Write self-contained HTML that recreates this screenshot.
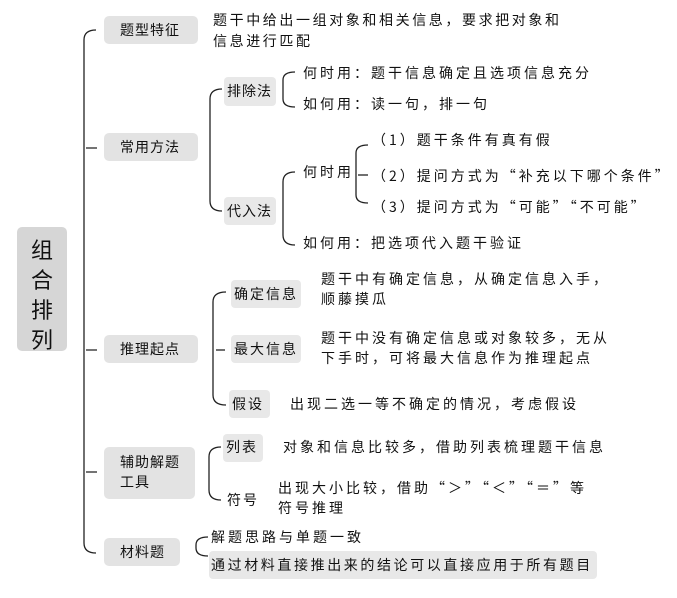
<!DOCTYPE html>
<html><head><meta charset="utf-8"><style>
body{margin:0;width:677px;height:598px;background:#fff;position:relative;overflow:hidden;font-family:"Noto Sans CJK SC","Liberation Sans",sans-serif;color:#111}
.t{position:absolute;white-space:nowrap;font-size:14px;letter-spacing:3px;line-height:20px}
.b{position:absolute;background:#e3e3e3;border-radius:5px}
.bd{position:absolute;background:#e8e8e8;border-radius:4px}
svg{position:absolute;left:0;top:0}
</style></head><body>
<svg width="677" height="598" fill="none" stroke="#222" stroke-width="1.3">
<path d="M96 30 Q84 30 84 40 L84 543 Q84 553 96 553"/>
<path d="M86 148 H97 M86 350 H97 M86 472 H97"/>
<path d="M222 89 Q210 89 210 99 L210 201 Q210 211 222 211"/>
<path d="M295 72 Q283 72 283 80 L283 99 Q283 107 295 107"/>
<path d="M295 172 Q283 172 283 182 L283 235 Q283 245 295 245"/>
<path d="M368 145 Q356 145 356 153 L356 195 Q356 203 368 203"/>
<path d="M358 175 H368"/>
<path d="M226 292 Q213 292 213 302 L213 395 Q213 405 226 405"/>
<path d="M216 350 H225"/>
<path d="M221 447 Q209 447 209 457 L209 490 Q209 500 221 500"/>
<path d="M208 537 Q196 537 196 545 L196 548 Q196 556 208 556"/>
</svg>
<div class="b" style="left:17px;top:227px;width:50px;height:124px;background:#d6d6d6"></div>
<div class="t" style="left:29px;top:234px;font-size:22px;line-height:30px;letter-spacing:0;width:26px;white-space:normal;text-align:center">组<br>合<br>排<br>列</div>
<div class="b" style="left:104px;top:16px;width:94px;height:28px"></div><div class="t" style="left:120px;top:20px;letter-spacing:1px">题型特征</div>
<div class="b" style="left:104px;top:133px;width:94px;height:28px"></div><div class="t" style="left:120px;top:137px;letter-spacing:1px">常用方法</div>
<div class="b" style="left:104px;top:335px;width:94px;height:28px"></div><div class="t" style="left:120px;top:339px;letter-spacing:1px">推理起点</div>
<div class="b" style="left:104px;top:447px;width:91px;height:52px"></div><div class="t" style="left:120px;top:452px;letter-spacing:1px">辅助解题<br>工具</div>
<div class="b" style="left:104px;top:538px;width:76px;height:28px"></div><div class="t" style="left:120px;top:542px;letter-spacing:1px">材料题</div>
<div class="t" style="left:213px;top:10px;letter-spacing:2.6px">题干中给出一组对象和相关信息，要求把对象和</div>
<div class="t" style="left:213px;top:31px;letter-spacing:2.6px">信息进行匹配</div>
<div class="bd" style="left:224px;top:77px;width:52px;height:29px"></div><div class="t" style="left:227px;top:81px;letter-spacing:1px">排除法</div>
<div class="bd" style="left:224px;top:197px;width:52px;height:28px"></div><div class="t" style="left:227px;top:201px;letter-spacing:1px">代入法</div>
<div class="t" style="left:303px;top:63px">何时用：题干信息确定且选项信息充分</div>
<div class="t" style="left:303px;top:94px">如何用：读一句，排一句</div>
<div class="t" style="left:303px;top:162px">何时用</div>
<div class="t" style="left:303px;top:233px">如何用：把选项代入题干验证</div>
<div class="t" style="left:372px;top:130px">（1）题干条件有真有假</div>
<div class="t" style="left:372px;top:166px">（2）提问方式为“补充以下哪个条件”</div>
<div class="t" style="left:372px;top:197px">（3）提问方式为“可能”“不可能”</div>
<div class="bd" style="left:231px;top:280px;width:70px;height:28px"></div><div class="t" style="left:234px;top:284px;letter-spacing:2px">确定信息</div>
<div class="bd" style="left:231px;top:335px;width:70px;height:28px"></div><div class="t" style="left:234px;top:339px;letter-spacing:2px">最大信息</div>
<div class="bd" style="left:229px;top:390px;width:41px;height:28px"></div><div class="t" style="left:232px;top:394px;letter-spacing:2px">假设</div>
<div class="t" style="left:321px;top:269px">题干中有确定信息，从确定信息入手，</div>
<div class="t" style="left:321px;top:289px">顺藤摸瓜</div>
<div class="t" style="left:321px;top:328px">题干中没有确定信息或对象较多，无从</div>
<div class="t" style="left:321px;top:348px">下手时，可将最大信息作为推理起点</div>
<div class="t" style="left:290px;top:394px">出现二选一等不确定的情况，考虑假设</div>
<div class="bd" style="left:223px;top:434px;width:40px;height:28px"></div><div class="t" style="left:226px;top:437px;letter-spacing:2px">列表</div>
<div class="t" style="left:227px;top:490px;letter-spacing:2px">符号</div>
<div class="t" style="left:283px;top:437px">对象和信息比较多，借助列表梳理题干信息</div>
<div class="t" style="left:278px;top:478px">出现大小比较，借助“＞”“＜”“＝”等</div>
<div class="t" style="left:278px;top:498px">符号推理</div>
<div class="t" style="left:211px;top:527px">解题思路与单题一致</div>
<div class="bd" style="left:209px;top:551px;width:388px;height:28px"></div>
<div class="t" style="left:211px;top:555px;letter-spacing:2.6px">通过材料直接推出来的结论可以直接应用于所有题目</div>
</body></html>
